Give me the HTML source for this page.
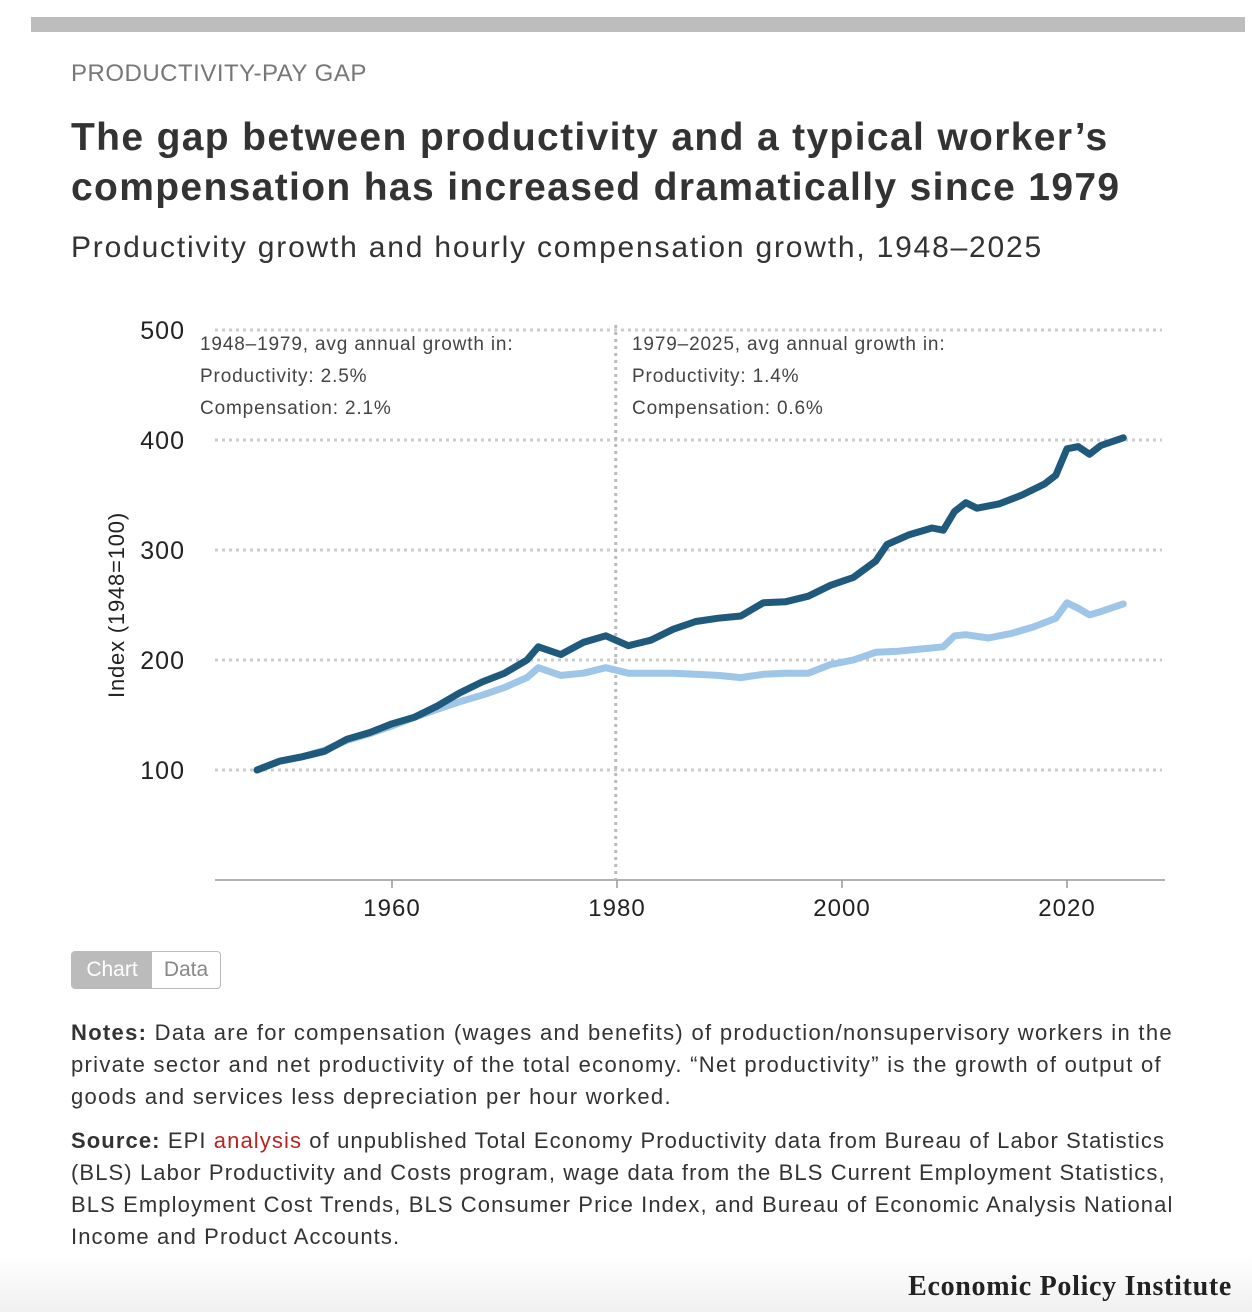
<!DOCTYPE html>
<html><head><meta charset="utf-8">
<style>
body{margin:0;width:1252px;height:1312px;background:#fff;font-family:"Liberation Sans",sans-serif;position:relative;overflow:hidden;color:#333}
.abs{position:absolute}
</style></head><body>
<div class="abs" style="left:31px;top:17px;width:1214px;height:15px;background:#bdbdbd"></div>
<div class="abs" style="left:71px;top:60px;font-size:24px;color:#777;letter-spacing:0.5px">PRODUCTIVITY-PAY GAP</div>
<div class="abs" style="left:71px;top:113px;font-size:39px;font-weight:bold;line-height:50px;color:#333;white-space:nowrap;letter-spacing:1.35px">The gap between productivity and a typical worker’s<br>compensation has increased dramatically since 1979</div>
<div class="abs" style="left:71px;top:231px;font-size:30px;color:#333;letter-spacing:1.8px;white-space:nowrap">Productivity growth and hourly compensation growth, 1948–2025</div>
<svg class="abs" style="left:0;top:300px" width="1252" height="640">
<g id="grid"></g><g id="lines"></g><g id="labels"></g>
</svg>
<div class="abs" style="left:71px;top:951px;width:148px;height:36px;border:1px solid #bbb;border-radius:4px;overflow:hidden;font-size:21px">
<div class="abs" style="left:0;top:0;width:80px;height:36px;background:#bbb;color:#fff;text-align:center;line-height:36px">Chart</div>
<div class="abs" style="left:80px;top:0;width:68px;height:36px;color:#888;text-align:center;line-height:36px">Data</div>
</div>
<div class="abs" style="left:71px;top:1017px;font-size:22px;line-height:32px;color:#333;white-space:nowrap;letter-spacing:1.3px"><b>Notes:</b> Data are for compensation (wages and benefits) of production/nonsupervisory workers in the<br>private sector and net productivity of the total economy. “Net productivity” is the growth of output of<br>goods and services less depreciation per hour worked.</div>
<div class="abs" style="left:71px;top:1125px;font-size:22px;line-height:32px;color:#333;white-space:nowrap;letter-spacing:1.1px"><b>Source:</b> EPI <span style="color:#b22">analysis</span> of unpublished Total Economy Productivity data from Bureau of Labor Statistics<br>(BLS) Labor Productivity and Costs program, wage data from the BLS Current Employment Statistics,<br>BLS Employment Cost Trends, BLS Consumer Price Index, and Bureau of Economic Analysis National<br>Income and Product Accounts.</div>
<div class="abs" style="left:0;top:1255px;width:1252px;height:57px;background:linear-gradient(#fff,#f0f0f0)"></div>
<div class="abs" style="right:20px;top:1271px;font-family:'Liberation Serif',serif;font-weight:bold;font-size:28px;letter-spacing:0.7px;color:#222">Economic Policy Institute</div>
<script>
const yTicks=[100,200,300,400,500];
const xTicks=[1960,1980,2000,2020];
const prodYears=[1948,1950,1952,1954,1956,1958,1960,1962,1964,1966,1968,1970,1972,1973,1975,1977,1979,1981,1983,1985,1987,1989,1991,1993,1995,1997,1999,2001,2003,2004,2006,2008,2009,2010,2011,2012,2014,2016,2018,2019,2020,2021,2022,2023,2025];
const prodValues=[100,108,112,117,128,134,142,148,158,170,180,188,200,212,205,216,222,213,218,228,235,238,240,252,253,258,268,275,290,305,314,320,318,335,343,338,342,350,360,368,392,394,387,395,402];
const compYears=[1948,1950,1952,1954,1956,1958,1960,1962,1964,1966,1968,1970,1972,1973,1975,1977,1979,1981,1983,1985,1987,1989,1991,1993,1995,1997,1999,2001,2003,2005,2007,2009,2010,2011,2013,2015,2017,2019,2020,2021,2022,2023,2025];
const compValues=[100,108,112,118,127,133,140,148,155,162,168,175,184,193,186,188,193,188,188,188,187,186,184,187,188,188,196,200,207,208,210,212,222,223,220,224,230,238,252,247,241,244,251];
const annLeft=["1948–1979, avg annual growth in:","Productivity: 2.5%","Compensation: 2.1%"];
const annRight=["1979–2025, avg annual growth in:","Productivity: 1.4%","Compensation: 0.6%"];
const NS="http://www.w3.org/2000/svg";
const X=yr=>257+(yr-1948)*11.25;
const Y=v=>580-v*1.1;
function mk(tag,attrs,parent,text){const e=document.createElementNS(NS,tag);for(const k in attrs)e.setAttribute(k,attrs[k]);if(text!=null)e.textContent=text;document.getElementById(parent).appendChild(e);return e;}
yTicks.forEach(t=>{
 const l=mk('line',{x1:215,x2:1162,y1:Y(t),y2:Y(t),stroke:'#ccc','stroke-width':3,'stroke-dasharray':'3 4'},'grid');
 
 
 const tx=mk('text',{x:185,y:Y(t)+9,'text-anchor':'end','font-size':25,'letter-spacing':1,fill:'#222'},'labels',String(t));
 
 
});
const ax=mk('line',{x1:215,x2:1165,y1:580,y2:580,stroke:'#999','stroke-width':1.5},'grid');


xTicks.forEach(t=>{
 const k=mk('line',{x1:X(t),x2:X(t),y1:580,y2:588,stroke:'#999','stroke-width':1.5},'grid');
 
 
 const tx=mk('text',{x:X(t),y:616,'text-anchor':'middle','font-size':24,'letter-spacing':1,fill:'#222'},'labels',String(t));
 
 
});
const vl=mk('line',{x1:X(1979)+10,x2:X(1979)+10,y1:25,y2:580,stroke:'#bbb','stroke-width':3,'stroke-dasharray':'3 4'},'grid');


const yt=mk('text',{transform:'translate(124,305) rotate(-90)','text-anchor':'middle','font-size':22,'letter-spacing':0.8,fill:'#222'},'labels','Index (1948=100)');


annLeft.forEach((s,i)=>{const t=mk('text',{x:200,y:50+i*32,'font-size':19,'letter-spacing':0.85,fill:'#444'},'labels',s);
 
 });
annRight.forEach((s,i)=>{const t=mk('text',{x:632,y:50+i*32,'font-size':19,'letter-spacing':0.85,fill:'#444'},'labels',s);
 
 });
function path(ys,vs){return ys.map((y,i)=>(i?'L':'M')+X(y).toFixed(1)+' '+Y(vs[i]).toFixed(1)).join(' ');}
const c=mk('path',{d:path(compYears,compValues),fill:'none',stroke:'#9ec6e8','stroke-width':7,'stroke-linejoin':'round','stroke-linecap':'round'},'lines');


const p=mk('path',{d:path(prodYears,prodValues),fill:'none',stroke:'#1f5a7d','stroke-width':7,'stroke-linejoin':'round','stroke-linecap':'round'},'lines');


</script>
</body></html>
